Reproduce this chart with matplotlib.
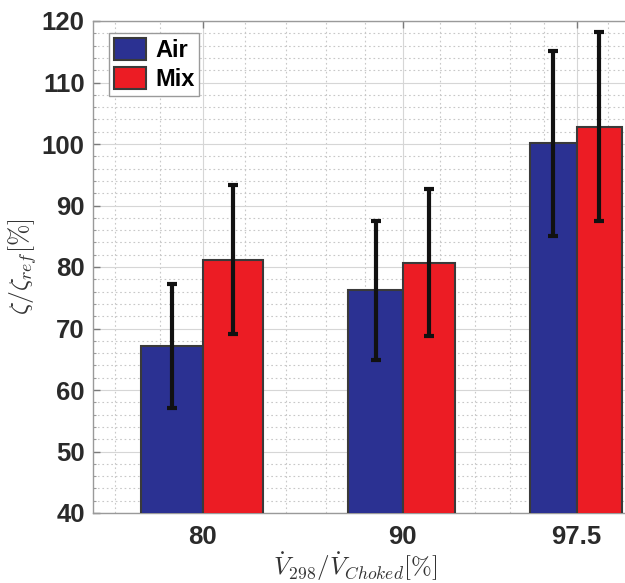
import numpy as np
import matplotlib
matplotlib.use("Agg")
import matplotlib.pyplot as plt
from matplotlib.ticker import MultipleLocator, FixedLocator

categories = ["80", "90", "97.5"]
series_names = ["Air", "Mix"]
air = [67.2, 76.2, 100.1]
air_err = [10.1, 11.3, 15.0]
mix = [81.2, 80.7, 102.8]
mix_err = [12.1, 12.0, 15.4]
yticks = [40, 50, 60, 70, 80, 90, 100, 110, 120]

plt.rcParams["font.family"] = ["Liberation Sans", "DejaVu Sans"]
plt.rcParams["mathtext.fontset"] = "cm"

K = 0.061

def fwd(x):
    x = np.asarray(x, dtype=float)
    return x - K * x ** 2

def inv(y):
    y = np.asarray(y, dtype=float)
    return (1 - np.sqrt(np.clip(1 - 4 * K * y, 0, None))) / (2 * K)

fig = plt.figure(figsize=(6.25, 5.83), dpi=100)
W, H = 625, 583
L, R, T, B = 93, 654, 21, 513
ax = fig.add_axes([L / W, 1 - B / H, (R - L) / W, (B - T) / H])
ax.set_xscale("function", functions=(fwd, inv))

x = np.arange(len(categories))
bw = 2 / 7
blue = "#2b3192"
red = "#ec1c24"
edge = "#3a3a3a"

ax.bar(x - bw / 2, air, width=bw, color=blue, edgecolor=edge, linewidth=1.5,
       label=series_names[0], zorder=3)
ax.bar(x + bw / 2, mix, width=bw, color=red, edgecolor=edge, linewidth=1.5,
       label=series_names[1], zorder=3)
ax.errorbar(x - bw / 2, air, yerr=air_err, fmt="none", ecolor="#111111",
            elinewidth=3, capsize=3.5, capthick=3, zorder=4)
ax.errorbar(x + bw / 2, mix, yerr=mix_err, fmt="none", ecolor="#111111",
            elinewidth=3, capsize=3.5, capthick=3, zorder=4)

ax.set_xlim(-0.5, 2.5)
ax.set_ylim(40, 120)
ax.xaxis.set_major_locator(FixedLocator(list(x)))
ax.set_xticklabels(categories)
ax.xaxis.set_minor_locator(MultipleLocator(0.2))
ax.set_yticks(yticks)
ax.yaxis.set_minor_locator(MultipleLocator(2))

ax.grid(True, which="major", color="#d6d6d6", linestyle="-", linewidth=0.8, zorder=0)
ax.grid(True, which="minor", color="#c8c8c8", linestyle=(0, (1.5, 2.5)), linewidth=0.8, zorder=0)
ax.set_axisbelow(True)

for s in ax.spines.values():
    s.set_color("#9a9a9a")
    s.set_linewidth(1.0)

ax.tick_params(axis="both", which="major", direction="in", length=5, width=1,
               color="#7a7a7a", labelsize=18.5, labelcolor="#2a2a2a", top=True, right=True)
ax.tick_params(axis="both", which="minor", direction="in", length=2.5, width=0.8,
               color="#9a9a9a", top=False, right=False)
ax.tick_params(axis="x", which="minor", bottom=False)
ax.tick_params(axis="x", which="major", pad=9)
ax.tick_params(axis="y", which="major", pad=6)
for lab in ax.get_xticklabels() + ax.get_yticklabels():
    lab.set_fontweight("bold")

ax.set_ylabel(r"$\zeta/\zeta_{ref}[\%]$", fontsize=18.5, color="#333333")
ax.yaxis.set_label_coords((23 - L) / (R - L), 0.5)
ax.set_xlabel(r"$\dot{V}_{298}/\dot{V}_{Choked}[\%]$", fontsize=18, color="#333333")
ax.xaxis.set_label_coords((355 - L) / (R - L), -(567 - B) / (B - T))
ax.xaxis.label.set_va("center")
ax.yaxis.label.set_va("center")

leg = ax.legend(loc="upper left", bbox_to_anchor=(16 / (R - L), 1 - 12 / (B - T)),
                borderaxespad=0, prop={"weight": "bold", "size": 17},
                handlelength=1.35, handleheight=1.1, handletextpad=0.4,
                borderpad=0.2, labelspacing=0.2, fancybox=False, framealpha=1)
leg.get_frame().set_edgecolor("#9a9a9a")
leg.get_frame().set_linewidth(1.0)

fig.savefig("out.png", dpi=100, facecolor="white")
